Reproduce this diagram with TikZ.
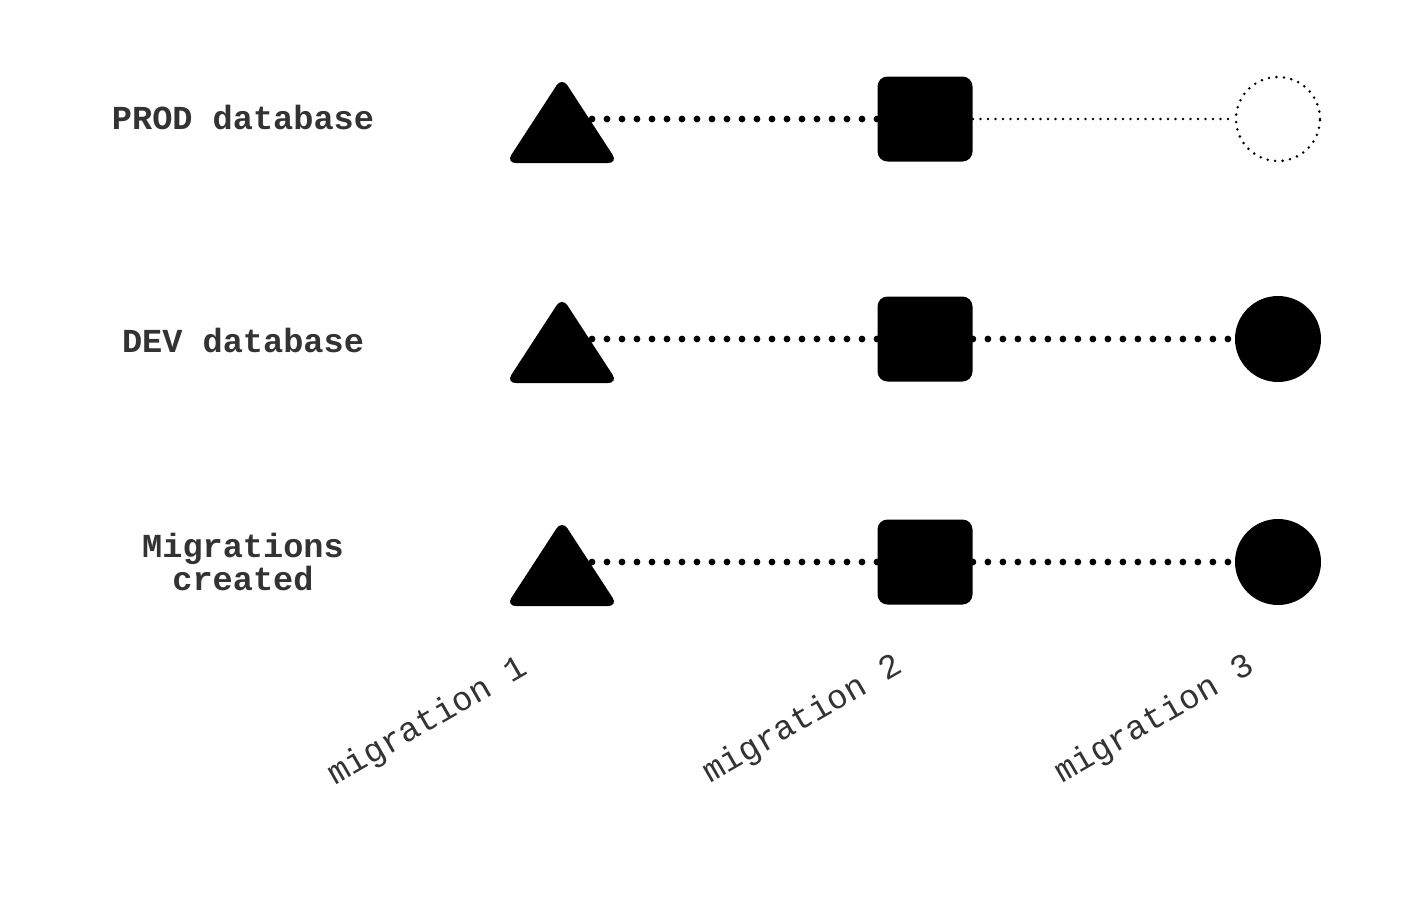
\documentclass[tikz,border=0pt]{standalone}
\usepackage{fontspec}
\usepackage{tikz}
\usetikzlibrary{shapes.geometric,positioning}
\newfontfamily\codefont{Liberation Mono}
\definecolor{labelgray}{HTML}{333333}
\pgfdeclarelayer{background}
\pgfsetlayers{background,main}

\begin{document}
\begin{tikzpicture}[x=0.5pt,y=-0.5pt,
    tri/.style={isosceles triangle, isosceles triangle stretches,
      shape border rotate=90, minimum width=56pt, minimum height=43pt,
      inner sep=0pt, fill=black, rounded corners=5pt},
    sq/.style={rectangle, minimum width=47.5pt, minimum height=42.5pt,
      inner sep=0pt, fill=black, rounded corners=5pt},
    done/.style={circle, minimum size=43pt, inner sep=0pt, fill=black},
    todo/.style={circle, minimum size=42pt, inner sep=0pt, draw, thindots},
    thickdots/.style={line width=3.4pt, line cap=round, dash pattern=on 0pt off 7.5pt},
    thindots/.style={line width=1.4pt, line cap=round, dash pattern=on 0pt off 3.75pt},
    rowlabel/.style={font=\codefont\bfseries\fontsize{16.8}{16.5}\selectfont,
      text=labelgray, align=center},
    collabel/.style={font=\codefont\fontsize{17}{20}\selectfont,
      text=labelgray, rotate=30}]
  \useasboundingbox (0,0) rectangle (1410,921);

  % rows
  \node [rowlabel] (prod) at (243,117) {PROD database};
  \node [rowlabel] (dev) at (243,340) {DEV database};
  \node [rowlabel] (created) at (243,562) {Migrations\\created};

  \node [tri, anchor=apex] (p1) at (562,76) {};
  \node [sq] (p2) at (925,119) {}; \node [todo] (p3) at (1278,119) {};
  \node [tri, anchor=apex] (d1) at (562,296) {};
  \node [sq] (d2) at (925,339) {}; \node [done] (d3) at (1278,339) {};
  \node [tri, anchor=apex] (m1) at (562,519) {};
  \node [sq] (m2) at (925,562) {}; \node [done] (m3) at (1278,562) {};

  \begin{pgfonlayer}{background}
    \draw [thickdots] (p1.center |- p2) -- (p2);
    \draw [thindots] (p2) -- (p3);
    \draw [thickdots] (d1.center |- d2) -- (d2) -- (d3);
    \draw [thickdots] (m1.center |- m2) -- (m2) -- (m3);
  \end{pgfonlayer}

  % columns
  \node [collabel] (c1) at (428,722) {migration 1};
  \node [collabel] (c2) at (803,720) {migration 2};
  \node [collabel] (c3) at (1155,720) {migration 3};
\end{tikzpicture}
\end{document}
